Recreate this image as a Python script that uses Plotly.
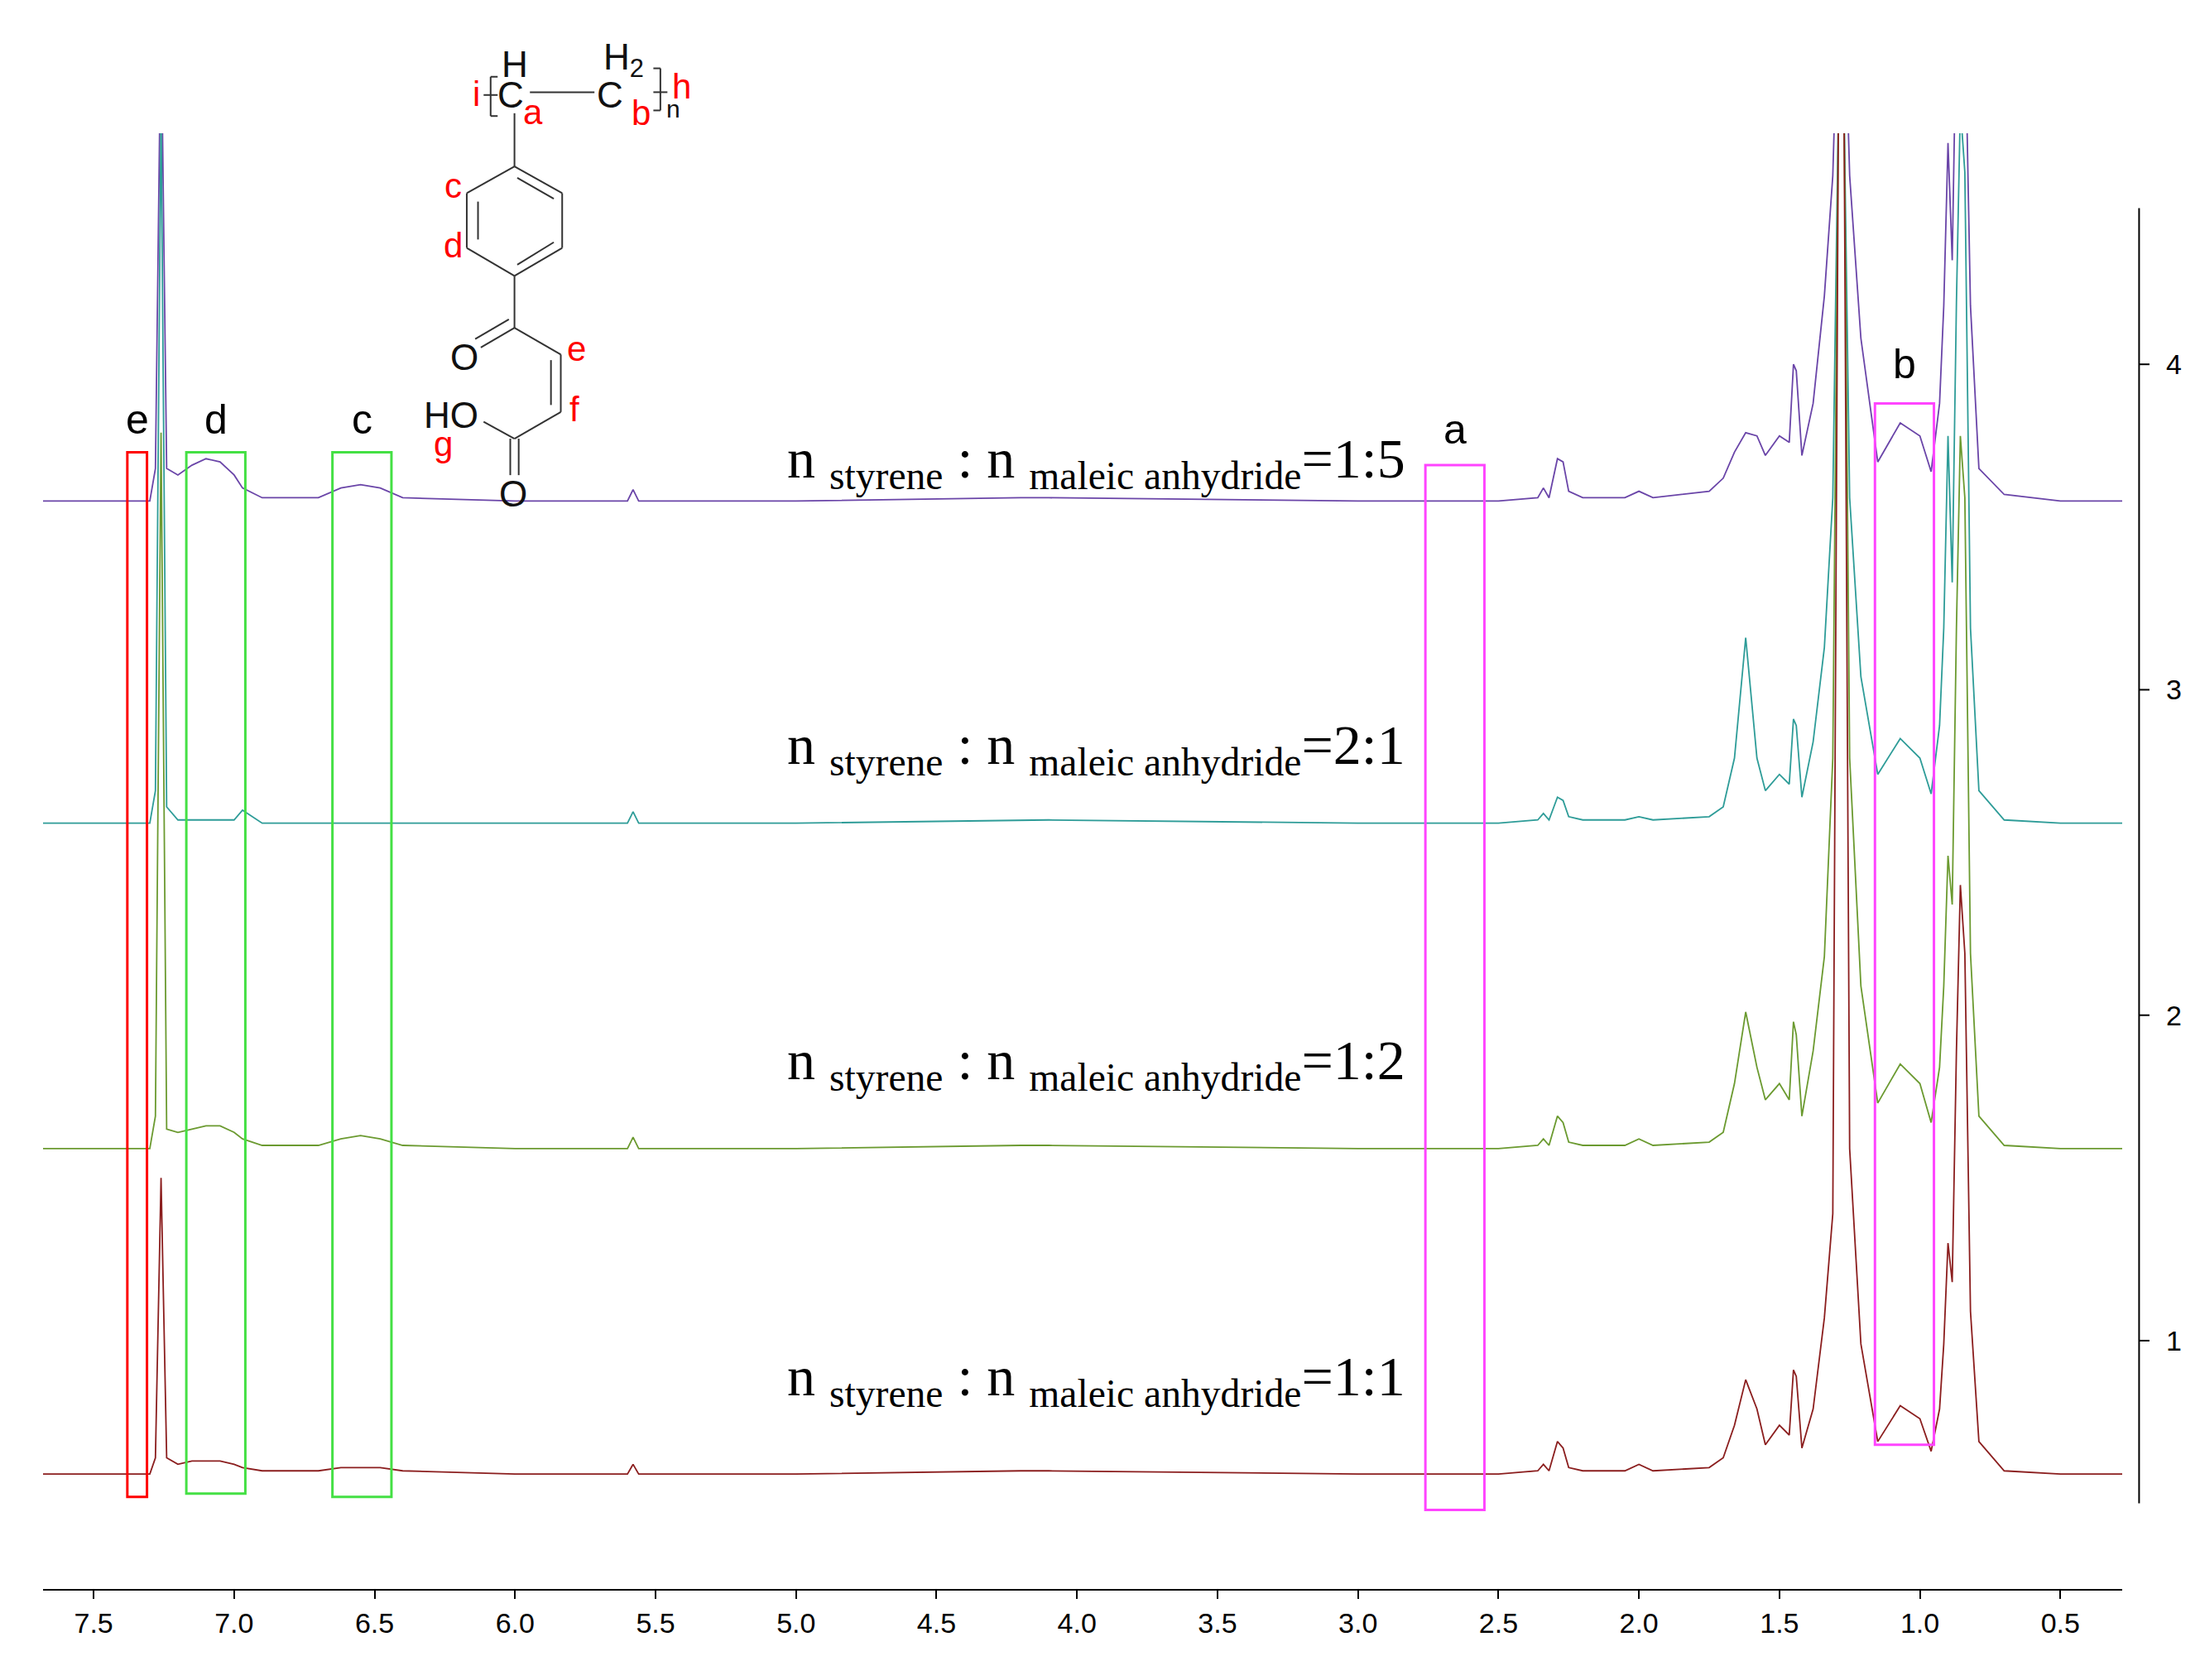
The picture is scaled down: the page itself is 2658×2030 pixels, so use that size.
import plotly.graph_objects as go

ppm = [7.7, 7.3, 7.28, 7.26, 7.24, 7.2, 7.15, 7.1, 7.05, 7.0, 6.97, 6.9, 6.7, 6.62, 6.55, 6.48, 6.4, 6.0,
       5.6, 5.58, 5.56, 5.0, 4.2, 4.1, 3.0, 2.5, 2.36, 2.34, 2.32, 2.29, 2.27, 2.25, 2.2, 2.05, 2.0, 1.95,
       1.75, 1.70, 1.66, 1.62, 1.58, 1.55, 1.50, 1.465, 1.45, 1.44, 1.42, 1.38, 1.34, 1.31, 1.29, 1.27,
       1.25, 1.21, 1.15, 1.07, 1.0, 0.96, 0.93, 0.915, 0.90, 0.885, 0.87, 0.856, 0.84, 0.82, 0.79, 0.7,
       0.5, 0.25]

int_15 = [0, 0, 0.1, 1.5, 0.1, 0.08, 0.11, 0.13, 0.12, 0.08, 0.04, 0.01, 0.01, 0.04, 0.05, 0.04, 0.01, 0,
          0, 0.035, 0, 0, 0.01, 0.01, 0, 0, 0.01, 0.04, 0.01, 0.13, 0.12, 0.03, 0.01, 0.01, 0.03, 0.01,
          0.03, 0.07, 0.15, 0.21, 0.2, 0.14, 0.2, 0.18, 0.42, 0.4, 0.14, 0.3, 0.63, 1.0, 1.6, 1.6,
          1.0, 0.5, 0.12, 0.24, 0.2, 0.09, 0.3, 0.6, 1.1, 0.74, 1.5, 1.6, 1.5, 0.6, 0.1, 0.02, 0, 0]
int_21 = [0, 0, 0.1, 2.2, 0.05, 0.01, 0.01, 0.01, 0.01, 0.01, 0.04, 0, 0, 0, 0, 0, 0, 0,
          0, 0.035, 0, 0, 0.01, 0.01, 0, 0, 0.01, 0.03, 0.01, 0.08, 0.07, 0.02, 0.01, 0.01, 0.02, 0.01,
          0.02, 0.05, 0.2, 0.57, 0.2, 0.1, 0.15, 0.12, 0.32, 0.3, 0.08, 0.25, 0.54, 1.0, 2.2, 2.2,
          1.0, 0.45, 0.15, 0.26, 0.2, 0.09, 0.3, 0.6, 1.19, 0.74, 1.6, 2.2, 2.0, 0.6, 0.1, 0.01, 0, 0]
int_12 = [0, 0, 0.1, 2.2, 0.06, 0.05, 0.06, 0.07, 0.07, 0.05, 0.03, 0.01, 0.01, 0.03, 0.04, 0.03, 0.01, 0,
          0, 0.035, 0, 0, 0.01, 0.01, 0, 0, 0.01, 0.03, 0.01, 0.1, 0.08, 0.02, 0.01, 0.01, 0.03, 0.01,
          0.02, 0.05, 0.2, 0.42, 0.25, 0.15, 0.2, 0.15, 0.39, 0.35, 0.1, 0.3, 0.59, 1.2, 3.2, 3.2,
          1.2, 0.5, 0.14, 0.26, 0.2, 0.08, 0.25, 0.5, 0.9, 0.75, 1.6, 2.19, 2.0, 0.6, 0.1, 0.01, 0, 0]
int_11 = [0, 0, 0.05, 0.91, 0.05, 0.03, 0.04, 0.04, 0.04, 0.03, 0.02, 0.01, 0.01, 0.02, 0.02, 0.02, 0.01, 0,
          0, 0.03, 0, 0, 0.01, 0.01, 0, 0, 0.01, 0.03, 0.01, 0.1, 0.08, 0.02, 0.01, 0.01, 0.03, 0.01,
          0.02, 0.05, 0.15, 0.29, 0.2, 0.09, 0.15, 0.12, 0.32, 0.3, 0.08, 0.2, 0.48, 0.8, 4.2, 4.2,
          1.0, 0.4, 0.1, 0.21, 0.17, 0.07, 0.2, 0.4, 0.71, 0.59, 1.3, 1.81, 1.6, 0.5, 0.1, 0.01, 0, 0]

baselines = [3.58, 2.59, 1.59, 0.59]
series = [int_15, int_21, int_12, int_11]
colors = ["#6a45a8", "#2e9c98", "#6b9a30", "#8b1e1e"]
ratios = ["1:5", "2:1", "1:2", "1:1"]
label_y = [3.70, 2.82, 1.85, 0.88]

x_ticks = [7.5, 7.0, 6.5, 6.0, 5.5, 5.0, 4.5, 4.0, 3.5, 3.0, 2.5, 2.0, 1.5, 1.0, 0.5]
y_ticks = [1, 2, 3, 4]

boxes = [  # x0, x1, y0, y1, colour, letter, letter_y
    (7.38, 7.31, 0.52, 3.73, "#ff0000", "e", 3.83),
    (7.17, 6.96, 0.53, 3.73, "#44e044", "d", 3.83),
    (6.65, 6.44, 0.52, 3.73, "#44e044", "c", 3.83),
    (2.76, 2.55, 0.48, 3.69, "#ff44ff", "a", 3.80),
    (1.16, 0.95, 0.68, 3.88, "#ff44ff", "b", 4.0),
]

fig = go.Figure()
for b, s, c in zip(baselines, series, colors):
    fig.add_trace(go.Scatter(x=ppm, y=[b + v for v in s], mode="lines",
                             line=dict(color=c, width=1.8), showlegend=False, hoverinfo="skip"))

shapes, ann = [], []
for x0, x1, y0, y1, c, L, ly in boxes:
    shapes.append(dict(type="rect", x0=x0, x1=x1, y0=y0, y1=y1, xref="x", yref="y",
                       line=dict(color=c, width=3)))
    ann.append(dict(x=(x0 + x1) / 2, y=ly, text=L, showarrow=False, xref="x", yref="y",
                    xanchor="center", yanchor="middle",
                    font=dict(size=50, color="black", family="Liberation Sans")))

for r, ly in zip(ratios, label_y):
    ann.append(dict(x=3.93, y=ly, xref="x", yref="y", showarrow=False, xanchor="center", yanchor="middle",
                    text="n <sub>styrene</sub> : n <sub>maleic anhydride</sub>=" + r,
                    font=dict(size=68, color="black", family="Liberation Serif")))

W, H = 2658, 2030
L_, R_, T_, B_ = 44, 102, 153, 118
pw, ph = W - L_ - R_, H - T_ - B_
def px(dx): return (dx * 1.695 - L_) / pw
def py(dy): return (H - B_ - dy * 1.695) / ph

ax_x = px(1520)
shapes.append(dict(type="line", xref="paper", yref="y", x0=ax_x, x1=ax_x, y0=0.5, y1=4.48,
                   line=dict(color="black", width=2)))
for t in y_ticks:
    shapes.append(dict(type="line", xref="paper", yref="y", x0=ax_x, x1=ax_x + 0.005, y0=t, y1=t,
                       line=dict(color="black", width=2)))
    ann.append(dict(xref="paper", yref="y", x=ax_x + 0.012, y=t, text=str(t), showarrow=False,
                    xanchor="left", yanchor="middle",
                    font=dict(size=34, color="black", family="Liberation Sans")))

# chemical structure (display-pixel geometry)
def seg(a, b, c, d, col="#333333"):
    shapes.append(dict(type="line", xref="paper", yref="paper", x0=px(a), y0=py(b), x1=px(c), y1=py(d),
                       line=dict(color=col, width=2)))
def txt(x, y, t, col="#111111", size=44):
    ann.append(dict(xref="paper", yref="paper", x=px(x), y=py(y), text=t, showarrow=False,
                    xanchor="center", yanchor="middle",
                    font=dict(size=size, color=col, family="Liberation Sans")))

seg(373, 61, 419, 61)
seg(362, 76, 362, 114)
hexv = [(362, 114), (396, 133), (396, 172), (362, 192), (328, 172), (328, 133), (362, 114)]
for i in range(6):
    seg(*hexv[i], *hexv[i + 1])
seg(336, 139, 336, 166); seg(364, 122, 390, 137); seg(364, 184, 390, 168)
seg(362, 192, 362, 229)
seg(362, 229, 338, 243); seg(358, 223, 334, 237)
seg(362, 229, 395, 248)
seg(395, 248, 395, 289); seg(388, 252, 388, 284)
seg(395, 289, 362, 308)
seg(362, 308, 340, 296)
seg(359, 308, 359, 334); seg(365, 308, 365, 334)
seg(345, 50, 345, 78); seg(345, 50, 350, 50); seg(345, 78, 350, 78); seg(340, 63, 350, 63)
seg(466, 44, 466, 74); seg(466, 44, 461, 44); seg(466, 74, 461, 74); seg(461, 61, 471, 61)
txt(362, 41, "H"); txt(359, 63, "C"); txt(440, 38, "H<sub>2</sub>"); txt(430, 63, "C")
txt(475, 73, "n", size=30)
txt(335, 62, "i", "#ff0000", 42); txt(375, 75, "a", "#ff0000", 42); txt(452, 76, "b", "#ff0000", 42)
txt(481, 57, "h", "#ff0000", 42)
txt(318, 128, "c", "#ff0000", 42); txt(318, 170, "d", "#ff0000", 42)
txt(406, 244, "e", "#ff0000", 42); txt(405, 287, "f", "#ff0000", 42)
txt(326, 250, "O"); txt(361, 347, "O"); txt(317, 291, "HO"); txt(311, 312, "g", "#ff0000", 42)

fig.update_layout(
    width=W, height=H, margin=dict(l=L_, r=R_, t=T_, b=B_),
    plot_bgcolor="white", paper_bgcolor="white",
    shapes=shapes, annotations=ann,
    xaxis=dict(range=[7.68, 0.28], tickvals=x_ticks, ticktext=[f"{v:.1f}" for v in x_ticks],
               showgrid=False, zeroline=False, showline=True, linecolor="black", linewidth=2,
               ticks="outside", ticklen=10, tickwidth=2, tickcolor="black",
               tickfont=dict(size=34, color="black", family="Liberation Sans")),
    yaxis=dict(range=[0.237, 4.71], showgrid=False, zeroline=False, showticklabels=False, showline=False),
)
fig.write_html("out.html")
